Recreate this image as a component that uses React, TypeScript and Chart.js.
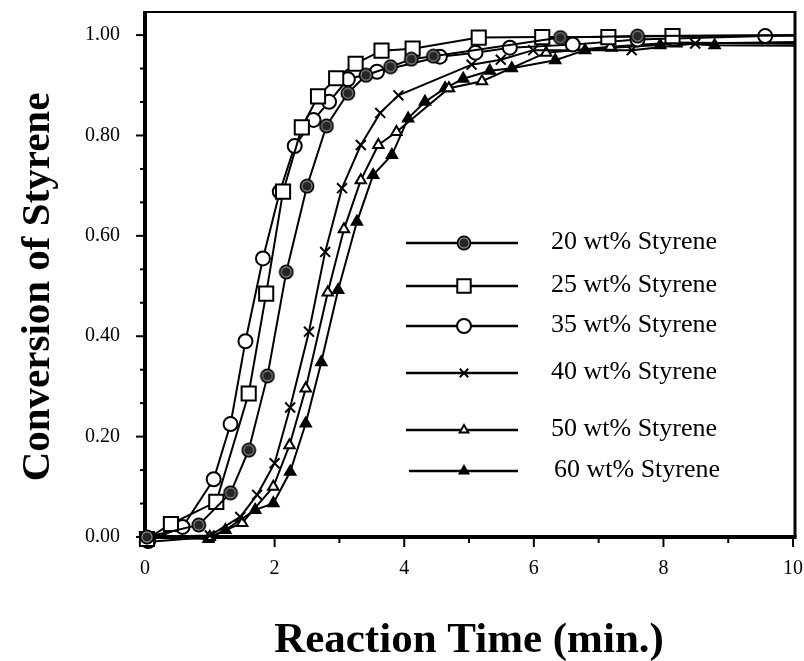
import React, { useEffect, useRef } from 'react';
import Chart from 'chart.js/auto';
import { drawPoint } from 'chart.js/helpers';

// ---------- data ----------
const LEGEND_LABELS = [
  '20 wt% Styrene',
  '25 wt% Styrene',
  '35 wt% Styrene',
  '40 wt% Styrene',
  '50 wt% Styrene',
  '60 wt% Styrene',
];

const T20 = [0.03, 0.83, 1.32, 1.6, 1.89, 2.18, 2.5, 2.8, 3.13, 3.41, 3.79, 4.11, 4.45, 6.41, 7.6, 10.5];
const C20 = [0.0, 0.024, 0.088, 0.173, 0.321, 0.528, 0.699, 0.819, 0.884, 0.92, 0.937, 0.952, 0.958, 0.995, 0.998, 1.0];

const T25 = [0.03, 0.4, 1.1, 1.6, 1.87, 2.13, 2.42, 2.67, 2.95, 3.25, 3.65, 4.13, 5.15, 6.13, 7.15, 8.14, 10.5];
const C25 = [-0.004, 0.026, 0.07, 0.286, 0.485, 0.688, 0.816, 0.878, 0.914, 0.943, 0.969, 0.973, 0.995, 0.996, 0.996, 0.998, 1.0];

const T35 = [0.05, 0.58, 1.06, 1.32, 1.55, 1.82, 2.08, 2.31, 2.6, 2.84, 3.13, 3.58, 4.55, 5.1, 5.63, 6.6, 7.6, 9.57, 10.5];
const C35 = [-0.008, 0.02, 0.115, 0.225, 0.39, 0.555, 0.688, 0.779, 0.831, 0.867, 0.912, 0.927, 0.957, 0.965, 0.975, 0.981, 0.991, 0.998, 1.0];

const T40 = [0.03, 1.0, 1.47, 1.73, 2.0, 2.24, 2.53, 2.78, 3.04, 3.33, 3.63, 3.91, 5.04, 5.49, 5.99, 7.51, 8.49, 10.5];
const C40 = [0.0, 0.003, 0.04, 0.084, 0.147, 0.258, 0.409, 0.568, 0.695, 0.781, 0.845, 0.88, 0.941, 0.951, 0.97, 0.97, 0.983, 0.987];

const T50 = [0.03, 1.0, 1.5, 1.98, 2.23, 2.48, 2.82, 3.07, 3.33, 3.6, 3.88, 4.69, 5.2, 6.19, 7.18, 8.18, 10.5];
const C50 = [-0.01, 0.0, 0.028, 0.1, 0.183, 0.296, 0.487, 0.613, 0.711, 0.781, 0.807, 0.894, 0.908, 0.965, 0.977, 0.985, 0.982];

const T60 = [0.03, 0.98, 1.24, 1.7, 1.98, 2.24, 2.48, 2.72, 2.98, 3.27, 3.52, 3.81, 4.06, 4.32, 4.63, 4.91, 5.32, 5.66, 6.33, 6.79, 7.2, 7.95, 8.2, 8.79, 10.5];
const C60 = [0.0, -0.004, 0.014, 0.054, 0.067, 0.13, 0.226, 0.348, 0.492, 0.628, 0.721, 0.761, 0.834, 0.867, 0.894, 0.913, 0.929, 0.934, 0.95, 0.97, 0.975, 0.98, 0.983, 0.98, 0.978];

const X_TICKS = [0, 1, 2, 3, 4, 5, 6, 7, 8, 9, 10];
const X_LABELS = ['0', '', '2', '', '4', '', '6', '', '8', '', '10'];
const Y_TICKS = [0, 0.0667, 0.1333, 0.2, 0.2667, 0.3333, 0.4, 0.4667, 0.5333, 0.6, 0.6667, 0.7333, 0.8, 0.8667, 0.9333, 1.0];
const Y_LABELS = ['0.00', '', '', '0.20', '', '', '0.40', '', '', '0.60', '', '', '0.80', '', '', '1.00'];

const X_TITLE = 'Reaction Time (min.)';
const Y_TITLE = 'Conversion of Styrene';

// ---------- helpers ----------
const SERIF = '"Liberation Serif", "Times New Roman", serif';

function makeRingDot(): HTMLCanvasElement {
  const c = document.createElement('canvas');
  c.width = 16;
  c.height = 16;
  const g = c.getContext('2d')!;
  g.beginPath();
  g.arc(8, 8, 7.4, 0, Math.PI * 2);
  g.fillStyle = '#000';
  g.fill();
  g.beginPath();
  g.arc(8, 8, 5.0, 0, Math.PI * 2);
  g.lineWidth = 1.3;
  g.strokeStyle = '#8c8c8c';
  g.stroke();
  g.beginPath();
  g.arc(8, 8, 4.2, 0, Math.PI * 2);
  g.fillStyle = '#262626';
  g.fill();
  return c;
}

function pts(t: number[], c: number[]) {
  return t.map((x, i) => ({ x, y: c[i] }));
}

const LEGEND_ROWS = [243, 286, 326, 373, 430, 471];

function noPad(s: any) {
  s.paddingTop = 0;
  s.paddingBottom = 0;
  s.paddingLeft = 0;
  s.paddingRight = 0;
}

export default function App() {
  const ref = useRef<HTMLCanvasElement | null>(null);

  useEffect(() => {
    if (!ref.current) return;
    const ring = makeRingDot();
    const base = {
      borderColor: '#000',
      borderWidth: 2,
      pointBorderColor: '#000',
      tension: 0,
      fill: false,
      clip: { left: 20, top: 20, right: 0, bottom: 20 },
    };
    const datasets: any[] = [
      { ...base, label: LEGEND_LABELS[0], data: pts(T20, C20), pointStyle: ring, pointRadius: 7, pointBackgroundColor: '#222', pointBorderWidth: 1.5 },
      { ...base, label: LEGEND_LABELS[1], data: pts(T25, C25), pointStyle: 'rect', pointRadius: 10, pointBackgroundColor: '#fff', pointBorderWidth: 2 },
      { ...base, label: LEGEND_LABELS[2], data: pts(T35, C35), pointStyle: 'circle', pointRadius: 7, pointBackgroundColor: '#fff', pointBorderWidth: 2 },
      { ...base, label: LEGEND_LABELS[3], data: pts(T40, C40), pointStyle: 'crossRot', pointRadius: 7, pointBackgroundColor: '#000', pointBorderWidth: 2 },
      { ...base, label: LEGEND_LABELS[4], data: pts(T50, C50), pointStyle: 'triangle', pointRadius: 6, pointBackgroundColor: '#fff', pointBorderWidth: 2 },
      { ...base, label: LEGEND_LABELS[5], data: pts(T60, C60), pointStyle: 'triangle', pointRadius: 6, pointBackgroundColor: '#000', pointBorderWidth: 2 },
    ];

    const decor = {
      id: 'decor',
      beforeDatasetsDraw(chart: any) {
        const { ctx, chartArea: a, scales } = chart;
        ctx.save();
        ctx.strokeStyle = '#000';
        // ticks
        ctx.lineWidth = 2;
        const ys = scales.y;
        Y_TICKS.forEach((v, i) => {
          const py = ys.getPixelForValue(v);
          const len = Y_LABELS[i] ? 9 : 5;
          ctx.beginPath();
          ctx.moveTo(a.left, py);
          ctx.lineTo(a.left - len, py);
          ctx.stroke();
        });
        const xs = scales.x;
        X_TICKS.forEach((v, i) => {
          const px = xs.getPixelForValue(v);
          const len = X_LABELS[i] ? 10 : 6;
          ctx.beginPath();
          ctx.moveTo(px, a.bottom);
          ctx.lineTo(px, a.bottom + len);
          ctx.stroke();
        });
        // frame
        ctx.lineWidth = 2;
        ctx.beginPath();
        ctx.moveTo(a.left, a.top);
        ctx.lineTo(a.right, a.top);
        ctx.stroke();
        ctx.lineWidth = 3;
        ctx.beginPath();
        ctx.moveTo(a.right, a.top - 1);
        ctx.lineTo(a.right, a.bottom);
        ctx.stroke();
        ctx.lineWidth = 4;
        ctx.beginPath();
        ctx.moveTo(a.left, a.top - 1);
        ctx.lineTo(a.left, a.bottom + 2);
        ctx.stroke();
        ctx.beginPath();
        ctx.moveTo(a.left - 2, a.bottom);
        ctx.lineTo(a.right + 1.5, a.bottom);
        ctx.stroke();
        ctx.restore();
      },
      afterDraw(chart: any) {
        const { ctx } = chart;
        ctx.save();
        // legend
        chart.data.datasets.forEach((ds: any, i: number) => {
          const y = LEGEND_ROWS[i];
          const x1 = i === 5 ? 409 : 406;
          ctx.strokeStyle = '#000';
          ctx.lineWidth = 2.5;
          ctx.beginPath();
          ctx.moveTo(x1, y);
          ctx.lineTo(518, y);
          ctx.stroke();
          ctx.fillStyle = ds.pointBackgroundColor;
          ctx.strokeStyle = '#000';
          ctx.lineWidth = ds.pointBorderWidth;
          const r = ds.pointStyle === 'triangle' ? 5 : ds.pointStyle === 'crossRot' ? 6 : ds.pointStyle === 'rect' ? 9.5 : 7;
          drawPoint(ctx, { pointStyle: ds.pointStyle, radius: r, rotation: 0, borderWidth: ds.pointBorderWidth }, 464, y);
          ctx.fillStyle = '#000';
          ctx.font = `26px ${SERIF}`;
          ctx.textAlign = 'left';
          ctx.textBaseline = 'middle';
          ctx.fillText(ds.label, i === 5 ? 554 : 551, y - 1);
        });
        // titles
        ctx.fillStyle = '#000';
        ctx.font = `bold 43px ${SERIF}`;
        ctx.textAlign = 'center';
        ctx.textBaseline = 'alphabetic';
        ctx.fillText(X_TITLE, 469, 652);
        ctx.translate(49, 287);
        ctx.rotate(-Math.PI / 2);
        ctx.font = `bold 41px ${SERIF}`;
        ctx.fillText(Y_TITLE, 0, 0);
        ctx.restore();
      },
    };

    const chart = new Chart(ref.current, {
      type: 'line',
      data: { datasets },
      options: {
        animation: false,
        responsive: false,
        devicePixelRatio: 1,
        layout: { padding: { top: 12, right: 9, left: 0, bottom: 0 }, autoPadding: false },
        plugins: { legend: { display: false }, tooltip: { enabled: false } },
        scales: {
          x: {
            type: 'linear',
            min: 0,
            max: 10.03,
            grid: { display: false, drawTicks: false },
            border: { display: false },
            afterBuildTicks: (s: any) => { s.ticks = X_TICKS.map((v) => ({ value: v })); },
            afterFit: (s: any) => { s.height = 124; noPad(s); },
            ticks: {
              autoSkip: false,
              maxRotation: 0,
              padding: 20,
              color: '#000',
              font: { family: SERIF, size: 20 },
              callback: (_v: any, i: number) => X_LABELS[i],
            },
          },
          y: {
            type: 'linear',
            min: 0,
            max: 1.046,
            grid: { display: false, drawTicks: false },
            border: { display: false },
            afterBuildTicks: (s: any) => { s.ticks = Y_TICKS.map((v) => ({ value: v })); },
            afterFit: (s: any) => { s.width = 145; noPad(s); },
            ticks: {
              autoSkip: false,
              padding: 25,
              color: '#000',
              font: { family: SERIF, size: 20 },
              callback: (_v: any, i: number) => Y_LABELS[i],
            },
          },
        },
      },
      plugins: [decor],
    });
    return () => chart.destroy();
  }, []);

  return (
    <div style={{ position: 'absolute', left: 0, top: 0, width: 804, height: 661, background: '#fff' }}>
      <canvas ref={ref} width={804} height={661} />
    </div>
  );
}
